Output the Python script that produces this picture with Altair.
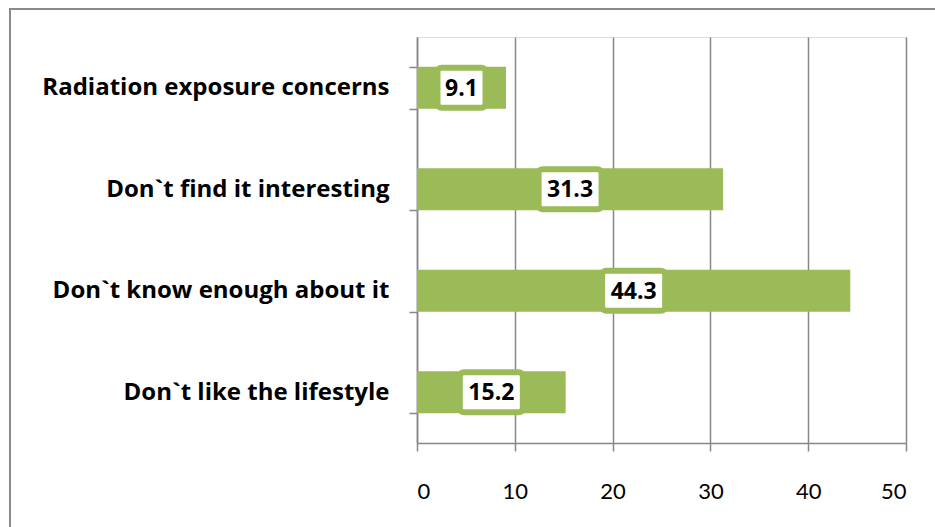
import altair as alt
import pandas as pd

# Survey reasons and their shares (%)
categories = [
    "Radiation exposure concerns",
    "Don`t find it interesting",
    "Don`t know enough about it",
    "Don`t like the lifestyle",
]
values = [9.1, 31.3, 44.3, 15.2]
x_ticks = [0, 10, 20, 30, 40, 50]

df = pd.DataFrame({"reason": categories, "pct": values})

GREEN = "#9BBB59"
GRAY = "#878787"
LABEL_FONT = "Open Sans"
TICK_FONT = "Lato"

y_scale = alt.Scale(paddingInner=0.586, paddingOuter=0.293)
x_scale = alt.Scale(domain=[0, 50], nice=False, zero=True)

y_axis = alt.Axis(
    title=None, grid=False, domainColor=GRAY, domainWidth=1.5,
    tickColor=GRAY, tickWidth=1.5, tickSize=8, tickBand="extent",
    labelFont=LABEL_FONT, labelFontWeight="bold", labelFontSize=24,
    labelColor="black", labelPadding=20, labelLimit=400,
)
x_axis = alt.Axis(
    title=None, values=x_ticks, grid=True, gridColor=GRAY, gridWidth=1.5,
    domainColor=GRAY, domainWidth=1.5, tickColor=GRAY, tickWidth=1.5,
    tickSize=8, labelFont=TICK_FONT, labelFontSize=22, labelColor="black",
    labelPadding=30,
)

base = alt.Chart(df)

bars = base.mark_bar(color=GREEN).encode(
    x=alt.X("pct:Q", scale=x_scale, axis=x_axis),
    y=alt.Y("reason:N", sort=categories, scale=y_scale, axis=y_axis),
)

labelled = base.transform_calculate(
    mid="datum.pct / 2",
    label="format(datum.pct, '.1f')",
)

box_style = dict(fill="white", stroke=GREEN, strokeWidth=6, cornerRadius=4, height=40)
pos = dict(
    x=alt.X("mid:Q", scale=x_scale),
    y=alt.Y("reason:N", sort=categories, scale=y_scale),
)

boxes_short = labelled.transform_filter("length(datum.label) <= 3").mark_rect(
    width=48, **box_style
).encode(**pos)
boxes_long = labelled.transform_filter("length(datum.label) > 3").mark_rect(
    width=63, **box_style
).encode(**pos)

texts = labelled.mark_text(
    font=LABEL_FONT, fontWeight="bold", fontSize=23, color="black",
    baseline="middle", dy=1,
).encode(text="label:N", **pos)

# outer frame around the whole figure
frame = alt.Chart(df).mark_rect(
    fill=None, stroke="#8A8A8A", strokeWidth=2
).encode(
    x=alt.value(-407), x2=alt.value(530),
    y=alt.value(-28), y2=alt.value(510),
)

chart = alt.layer(frame, bars, boxes_short, boxes_long, texts).properties(
    width=489, height=406,
    autosize=alt.AutoSizeParams(type="none"),
    padding={"left": 417, "top": 37, "right": 29, "bottom": 84},
).configure_view(stroke=None).configure(background="white")

chart.save("out.html", embed_options={"renderer": "svg", "actions": False})
